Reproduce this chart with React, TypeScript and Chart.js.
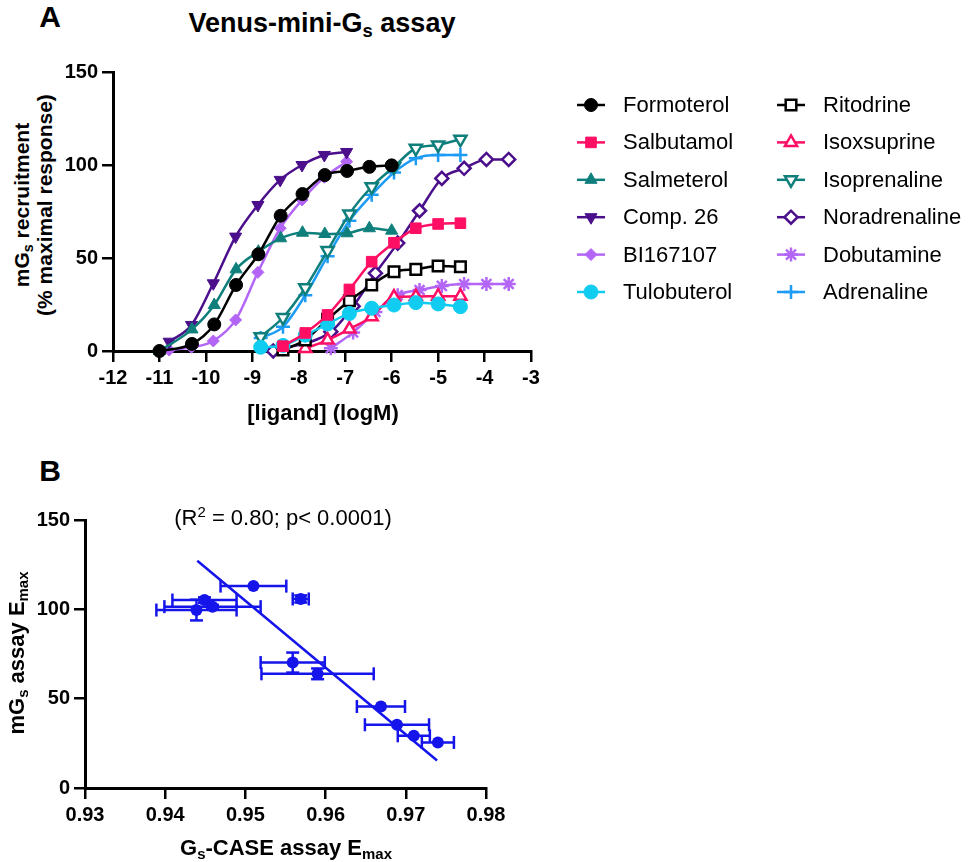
import { useEffect, useRef } from "react";
import { Chart, registerables } from "chart.js";
import { drawPoint } from "chart.js/helpers";

Chart.register(...registerables);

const FONT = "'Liberation Sans', Arial, Helvetica, sans-serif";

// ---- panel A: concentration-response, [ligand] (logM) vs % maximal response
const drugNames = [
  "Formoterol", "Salbutamol", "Salmeterol", "Comp. 26", "BI167107", "Tulobuterol",
  "Ritodrine", "Isoxsuprine", "Isoprenaline", "Noradrenaline", "Dobutamine", "Adrenaline",
];

const logFormoterol = [-11, -10.3, -9.82, -9.35, -8.87, -8.39, -7.92, -7.44, -6.96, -6.48, -6.0];
const respFormoterol = [0, 3.8, 14.3, 35.5, 52, 72.7, 84.4, 94.6, 96.8, 99, 99.8];

const logSalbutamol = [-8.34, -7.86, -7.38, -6.91, -6.43, -5.95, -5.48, -5.0, -4.52];
const respSalbutamol = [2.6, 9.7, 19.4, 33.1, 48, 58.2, 66, 68.3, 68.7];

const logSalmeterol = [-11, -10.3, -9.82, -9.35, -8.87, -8.39, -7.92, -7.44, -6.96, -6.48, -6.0];
const respSalmeterol = [0, 11.6, 24.7, 43.9, 53.4, 60.6, 63.6, 62.9, 63.3, 66, 64.7];

const logComp26 = [-10.79, -10.31, -9.84, -9.36, -8.88, -8.4, -7.93, -7.45, -6.97];
const respComp26 = [5, 14, 36.4, 61.5, 78.5, 92, 100, 105.4, 107];

const logBI167107 = [-10.79, -10.31, -9.84, -9.36, -8.88, -8.4, -7.93, -7.45, -6.97];
const respBI167107 = [0.5, 2, 5.4, 16.7, 42.3, 66, 81.2, 93.4, 101.8];

const logTulobuterol = [-8.82, -8.34, -7.86, -7.38, -6.91, -6.43, -5.95, -5.48, -5.0, -4.52];
const respTulobuterol = [2, 3, 8.5, 14.5, 20.2, 23, 24.7, 26, 25.3, 23.8];

const logRitodrine = [-8.34, -7.86, -7.38, -6.91, -6.43, -5.95, -5.48, -5.0, -4.52];
const respRitodrine = [0.5, 6, 17, 27, 35.5, 42.6, 43.9, 45.7, 45.3];

const logIsoxsuprine = [-7.86, -7.38, -6.91, -6.43, -5.95, -5.48, -5.0, -4.52];
const respIsoxsuprine = [1.4, 5.9, 11.8, 18.4, 29, 29.3, 29.5, 29.5];

const logIsoprenaline = [-8.82, -8.34, -7.86, -7.38, -6.91, -6.43, -5.95, -5.48, -5.0, -4.52];
const respIsoprenaline = [7.7, 18, 34, 54, 73.7, 88.3, 99, 109, 110.8, 113.8];

const logNoradrenaline = [-8.55, -7.31, -6.83, -6.35, -5.87, -5.4, -4.92, -4.44, -3.96, -3.48];
const respNoradrenaline = [0, 10.4, 24, 41.8, 58, 75.4, 92.8, 98.2, 103, 103];

const logDobutamine = [-7.31, -6.83, -6.35, -5.87, -5.4, -4.92, -4.44, -3.96, -3.48];
const respDobutamine = [1.5, 10, 21, 30, 32.8, 35, 36, 36, 36];

const logAdrenaline = [-8.82, -8.34, -7.86, -7.38, -6.91, -6.43, -5.95, -5.48, -5.0, -4.52];
const respAdrenaline = [7, 13, 30, 51, 70, 84, 96, 103.6, 105.4, 105.4];

const drugLogs = [
  logFormoterol, logSalbutamol, logSalmeterol, logComp26, logBI167107, logTulobuterol,
  logRitodrine, logIsoxsuprine, logIsoprenaline, logNoradrenaline, logDobutamine, logAdrenaline,
];
const drugResps = [
  respFormoterol, respSalbutamol, respSalmeterol, respComp26, respBI167107, respTulobuterol,
  respRitodrine, respIsoxsuprine, respIsoprenaline, respNoradrenaline, respDobutamine, respAdrenaline,
];

const BLACK = "#000000";
const PINK = "#FF0F64";
const TEAL = "#0F7F7C";
const DPURPLE = "#4B0F8C";
const LPURPLE = "#B366F5";
const CYAN = "#10CCF0";
const LBLUE = "#1C9CF5";

const drugColors = [BLACK, PINK, TEAL, DPURPLE, LPURPLE, CYAN, BLACK, PINK, TEAL, DPURPLE, LPURPLE, LBLUE];
const drugMarkers = ["circle", "rect", "triangle", "triangle", "rectRot", "circle", "rect", "triangle", "triangle", "rectRot", "star", "cross"];
const drugRotation = [0, 0, 0, 180, 0, 0, 0, 0, 180, 0, 0, 0];
const drugFilled = [true, true, true, true, true, true, false, false, false, false, false, false];
const drugRadius = [6.5, 7.5, 7, 7, 6, 7, 7.5, 7, 7, 6.5, 7, 7];

// ---- panel B: Emax correlation
const caseEmax = [0.951, 0.9569, 0.9449, 0.9459, 0.9439, 0.9559, 0.959, 0.9669, 0.9689, 0.971, 0.974];
const caseErr = [0.0041, 0.001, 0.004, 0.006, 0.005, 0.004, 0.007, 0.003, 0.004, 0.002, 0.002];
const miniEmax = [113, 105.8, 105.2, 101.5, 99.6, 70.2, 63.9, 45.6, 35.4, 29.2, 25.5];
const miniErr = [0, 2, 1.5, 1, 5.8, 5.6, 3, 0, 0, 0, 0];
const fitCase = [0.944, 0.9739];
const fitMini = [127.2, 15.4];

const BLUE = "#1414EB";

const axis = (min: number, max: number, step: number, size: number, fmt?: (v: number) => string) => ({
  type: "linear" as const,
  min,
  max,
  afterFit: (s: any) => {
    if (s.isHorizontal()) s.height = size;
    else s.width = size;
  },
  ticks: {
    stepSize: step,
    color: "#000",
    padding: 4,
    font: { family: FONT, size: 20, weight: "bold" as const },
    callback: fmt ? (v: any) => fmt(Number(v)) : undefined,
  },
  grid: { drawOnChartArea: false, drawTicks: true, tickLength: 11, color: "#000", lineWidth: 2.5 },
  border: { display: true, color: "#000", width: 3 },
});

const sideLegend = {
  id: "sideLegend",
  afterDraw(chart: any) {
    const { ctx, chartArea } = chart;
    ctx.save();
    chart.data.datasets.forEach((ds: any, i: number) => {
      const col = Math.floor(i / 6);
      const row = i % 6;
      const x0 = chartArea.right + 46 + col * 200;
      const y = chartArea.top + 33 + row * 37.4;
      ctx.strokeStyle = ds.borderColor;
      ctx.lineWidth = 2.5;
      ctx.beginPath();
      ctx.moveTo(x0, y);
      ctx.lineTo(x0 + 28, y);
      ctx.stroke();
      ctx.fillStyle = ds.pointBackgroundColor;
      ctx.strokeStyle = ds.pointBorderColor;
      ctx.lineWidth = ds.pointBorderWidth;
      drawPoint(ctx, {
        pointStyle: ds.pointStyle,
        rotation: ds.pointRotation,
        radius: ds.pointRadius,
        borderWidth: ds.pointBorderWidth,
      } as any, x0 + 14, y);
      ctx.fillStyle = "#000";
      ctx.font = `22px ${FONT}`;
      ctx.textAlign = "left";
      ctx.textBaseline = "middle";
      ctx.fillText(ds.label, x0 + 46, y + 1);
    });
    ctx.restore();
  },
};

const errorBars = {
  id: "errorBars",
  beforeDatasetsDraw(chart: any) {
    const { ctx } = chart;
    const xs = chart.scales.x;
    const ys = chart.scales.y;
    const cap = 6.5;
    ctx.save();
    ctx.strokeStyle = BLUE;
    ctx.lineWidth = 2.5;
    const seg = (a: number, b: number, c: number, d: number) => {
      ctx.beginPath();
      ctx.moveTo(a, b);
      ctx.lineTo(c, d);
      ctx.stroke();
    };
    caseEmax.forEach((cx, i) => {
      const px = xs.getPixelForValue(cx);
      const py = ys.getPixelForValue(miniEmax[i]);
      if (caseErr[i] > 0) {
        const l = xs.getPixelForValue(cx - caseErr[i]);
        const r = xs.getPixelForValue(cx + caseErr[i]);
        seg(l, py, r, py);
        seg(l, py - cap, l, py + cap);
        seg(r, py - cap, r, py + cap);
      }
      if (miniErr[i] > 0) {
        const t = ys.getPixelForValue(miniEmax[i] + miniErr[i]);
        const b = ys.getPixelForValue(miniEmax[i] - miniErr[i]);
        seg(px, t, px, b);
        seg(px - cap, t, px + cap, t);
        seg(px - cap, b, px + cap, b);
      }
    });
    ctx.restore();
  },
};

const baseOptions = {
  responsive: false,
  maintainAspectRatio: false,
  animation: false as const,
  events: [],
  plugins: { legend: { display: false }, tooltip: { enabled: false }, title: { display: false } },
};

function PanelA() {
  const ref = useRef<HTMLCanvasElement>(null);
  useEffect(() => {
    if (!ref.current) return;
    const datasets = drugNames.map((name, i) => ({
      label: name,
      data: drugLogs[i].map((x, j) => ({ x, y: drugResps[i][j] })),
      showLine: true,
      cubicInterpolationMode: "monotone" as const,
      borderColor: drugColors[i],
      borderWidth: 2.5,
      pointStyle: drugMarkers[i],
      pointRotation: drugRotation[i],
      pointRadius: drugRadius[i],
      pointBackgroundColor: drugFilled[i] ? drugColors[i] : "#FFFFFF",
      pointBorderColor: drugColors[i],
      pointBorderWidth: drugFilled[i] ? 1 : 2.5,
      clip: false as const,
    }));
    const chart = new Chart(ref.current, {
      type: "scatter",
      data: { datasets },
      options: {
        ...baseOptions,
        layout: { padding: { top: 22, right: 438, left: 0, bottom: 0 } },
        scales: {
          x: axis(-12, -3, 1, 59),
          y: axis(0, 150, 50, 53),
        },
      } as any,
      plugins: [sideLegend],
    });
    return () => chart.destroy();
  }, []);
  return (
    <canvas
      ref={ref}
      width={909}
      height={360}
      style={{ position: "absolute", left: 60, top: 50, width: 909, height: 360 }}
    />
  );
}

function PanelB() {
  const ref = useRef<HTMLCanvasElement>(null);
  useEffect(() => {
    if (!ref.current) return;
    const chart = new Chart(ref.current, {
      type: "scatter",
      data: {
        datasets: [
          {
            label: "Emax",
            data: caseEmax.map((x, i) => ({ x, y: miniEmax[i] })),
            pointRadius: 6,
            pointBackgroundColor: BLUE,
            pointBorderWidth: 0,
            clip: false as const,
          },
          {
            label: "fit",
            data: fitCase.map((x, i) => ({ x, y: fitMini[i] })),
            showLine: true,
            borderColor: BLUE,
            borderWidth: 2.5,
            pointRadius: 0,
            clip: false as const,
          },
        ],
      },
      options: {
        ...baseOptions,
        layout: { padding: { top: 20, right: 34, left: 0, bottom: 0 } },
        scales: {
          x: axis(0.93, 0.98, 0.01, 74, (v) => v.toFixed(2)),
          y: axis(0, 150, 50, 85),
        },
      } as any,
      plugins: [errorBars],
    });
    return () => chart.destroy();
  }, []);
  return (
    <canvas
      ref={ref}
      width={520}
      height={362}
      style={{ position: "absolute", left: 0, top: 500, width: 520, height: 362 }}
    />
  );
}

const subStyle = { fontSize: "0.68em", verticalAlign: "-0.28em", lineHeight: 0 };

function Text({ x, y, size, bold = true, rotate = false, w = 320, lh, children }: any) {
  const h = lh ?? size;
  return (
    <div
      style={{
        position: "absolute",
        left: x - w / 2,
        top: y - h / 2,
        width: w,
        textAlign: "center",
        fontFamily: FONT,
        fontSize: size,
        fontWeight: bold ? "bold" : "normal",
        lineHeight: `${h}px`,
        whiteSpace: "nowrap",
        color: "#000",
        transform: rotate ? "rotate(-90deg)" : undefined,
      }}
    >
      {children}
    </div>
  );
}

export default function App() {
  return (
    <div style={{ position: "absolute", left: 0, top: 0, width: 969, height: 862, background: "#fff", overflow: "hidden" }}>
      <PanelA />
      <PanelB />
      <Text x={50} y={17} size={30} w={40}>A</Text>
      <Text x={322} y={23} size={27} w={400}>
        Venus-mini-G<sub style={subStyle}>s</sub> assay
      </Text>
      <div
        style={{
          position: "absolute",
          left: 33 - 160,
          top: 205 - 23,
          width: 320,
          height: 46,
          textAlign: "center",
          fontFamily: FONT,
          fontSize: 21,
          fontWeight: "bold",
          lineHeight: "23px",
          whiteSpace: "nowrap",
          transform: "rotate(-90deg)",
        }}
      >
        mG<sub style={subStyle}>s</sub> recruitment
        <br />
        (% maximal response)
      </div>
      <Text x={323} y={413} size={22}>[ligand] (logM)</Text>
      <Text x={50} y={471} size={30} w={40}>B</Text>
      <Text x={283} y={518} size={22} bold={false}>
        (R<sup style={{ fontSize: "0.68em", verticalAlign: "0.55em", lineHeight: 0 }}>2</sup> = 0.80; p&lt; 0.0001)
      </Text>
      <Text x={17} y={653} size={22} rotate>
        mG<sub style={subStyle}>s</sub> assay E<sub style={subStyle}>max</sub>
      </Text>
      <Text x={286} y={848} size={22}>
        G<sub style={subStyle}>s</sub>-CASE assay E<sub style={subStyle}>max</sub>
      </Text>
    </div>
  );
}
